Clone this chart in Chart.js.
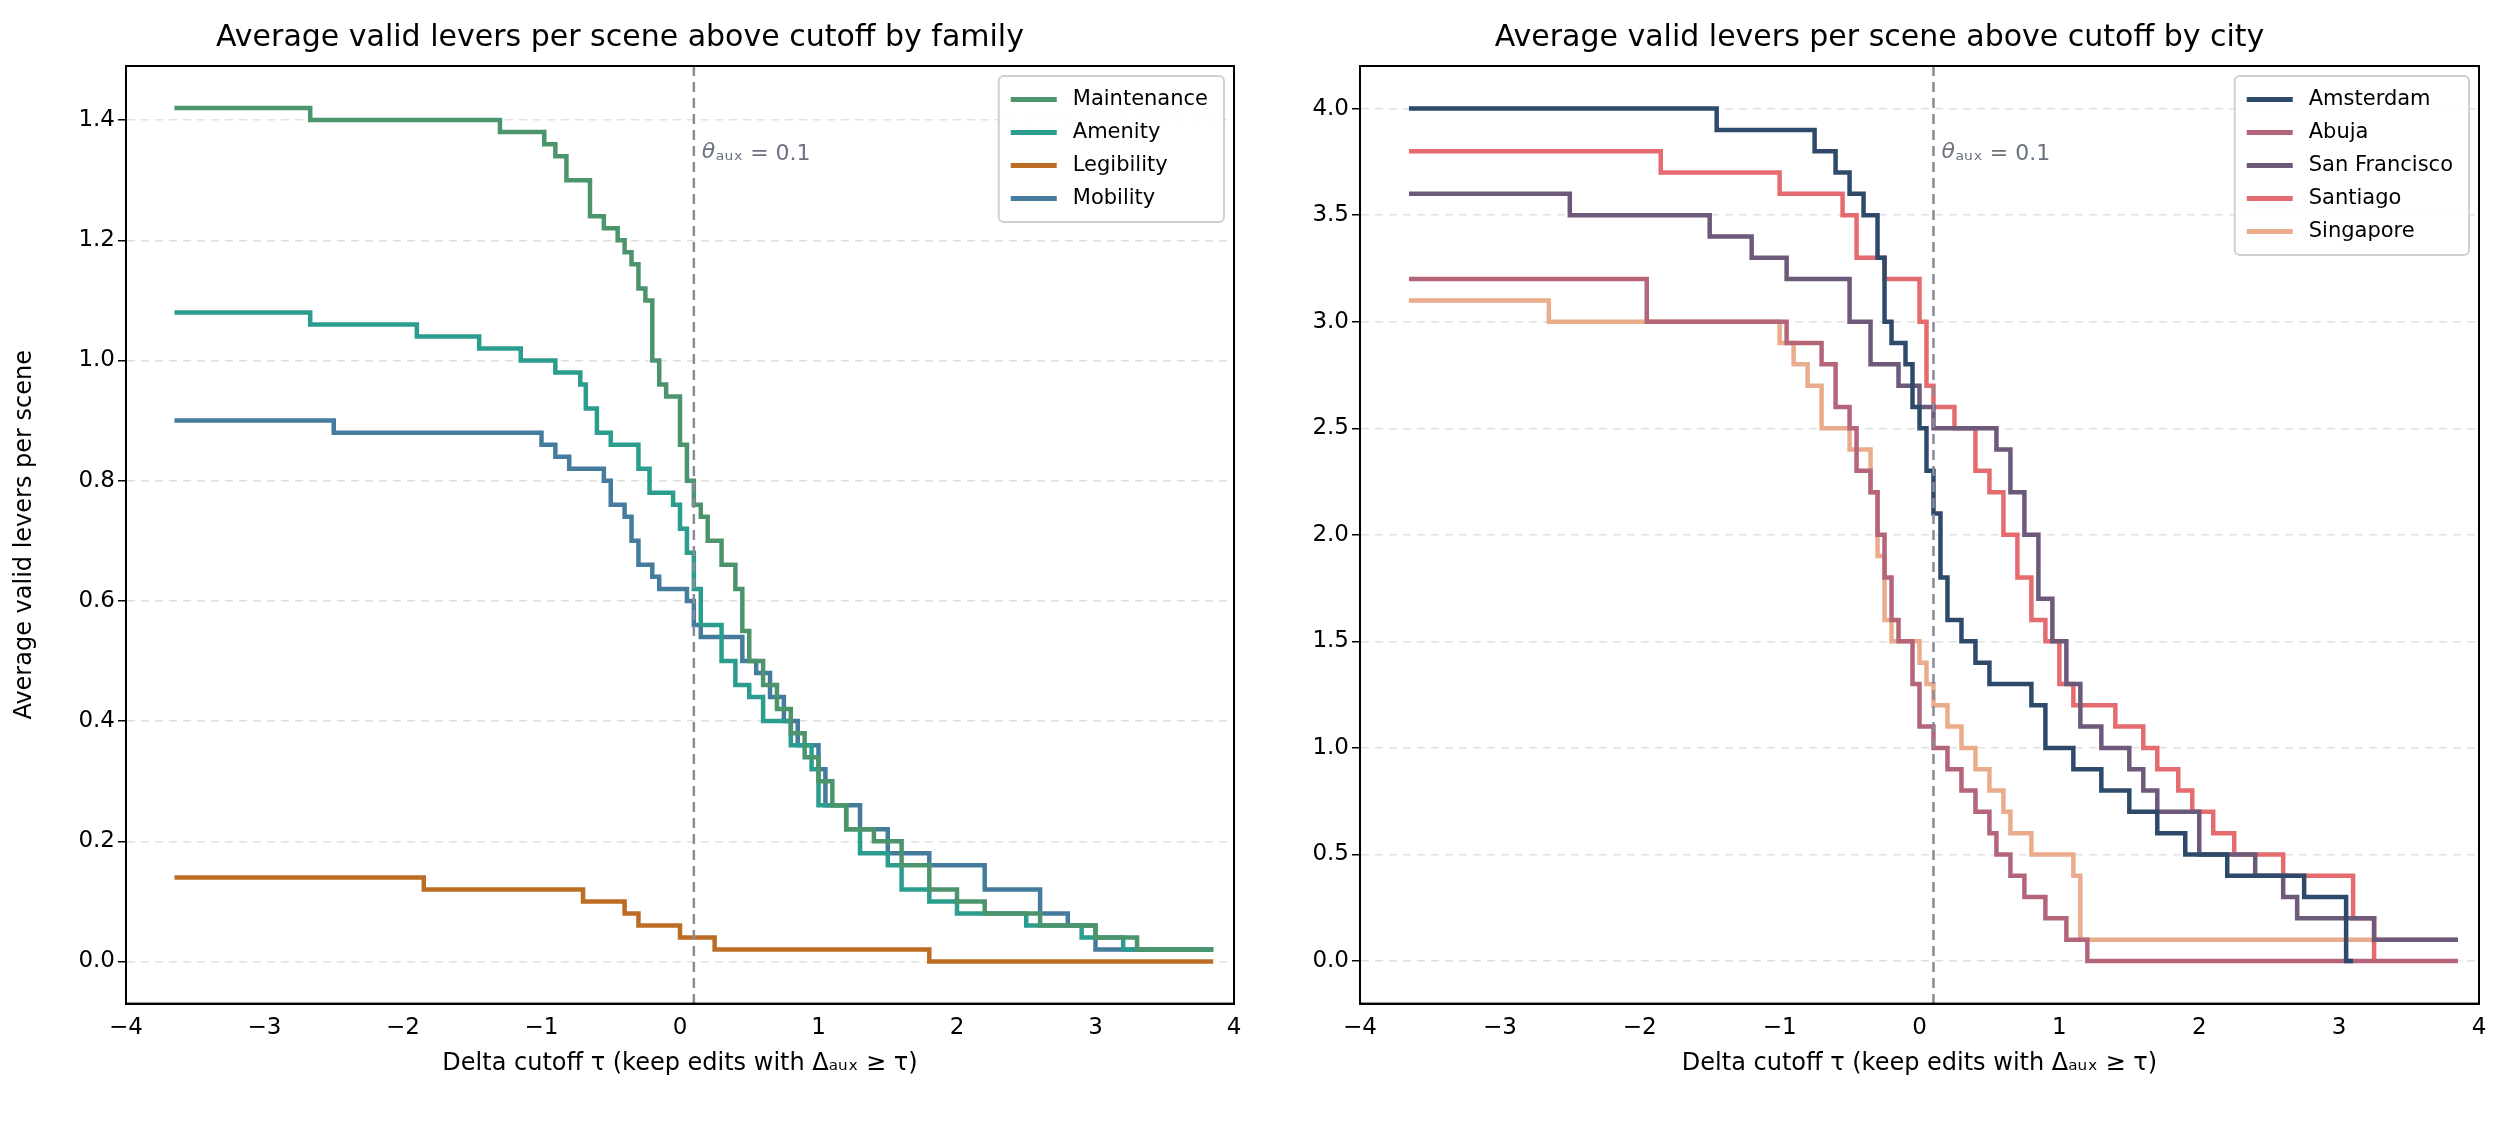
<!DOCTYPE html>
<html>
<head>
<meta charset="utf-8">
<script src="https://cdn.jsdelivr.net/npm/chart.js@4.4.1/dist/chart.umd.min.js"></script>
<style>
  body { margin: 0; background: #fff; }
  .box { position: absolute; top: 0; height: 1122px; }
  #left { left: 0; width: 1262px; }
  #right { left: 1250px; width: 1257px; }
</style>
</head>
<body>
<div class="box" id="left"><canvas id="family-chart"></canvas></div>
<div class="box" id="right"><canvas id="city-chart"></canvas></div>
<script>
// step curves: x = cutoff where the value changes, y = value from there on
const maintenanceX = [-3.65,-2.67,-1.3,-0.98,-0.9,-0.82,-0.65,-0.55,-0.45,-0.4,-0.35,-0.3,-0.25,-0.2,-0.15,-0.1,0.0,0.05,0.1,0.15,0.2,0.3,0.4,0.45,0.5,0.6,0.7,0.8,0.9,1.0,1.1,1.2,1.4,1.6,1.8,2.0,2.2,2.6,3.0,3.3,3.85];
const maintenanceY = [1.42,1.40,1.38,1.36,1.34,1.30,1.24,1.22,1.20,1.18,1.16,1.12,1.10,1.00,0.96,0.94,0.86,0.80,0.76,0.74,0.70,0.66,0.62,0.55,0.50,0.46,0.42,0.38,0.34,0.30,0.26,0.22,0.20,0.16,0.12,0.10,0.08,0.06,0.04,0.02,0.02];
const amenityX = [-3.65,-2.67,-1.9,-1.45,-1.15,-0.9,-0.72,-0.68,-0.6,-0.5,-0.3,-0.22,-0.05,0.0,0.05,0.1,0.15,0.3,0.4,0.5,0.6,0.8,0.95,1.0,1.2,1.3,1.5,1.6,1.8,2.0,2.5,2.9,3.2,3.85];
const amenityY = [1.08,1.06,1.04,1.02,1.00,0.98,0.96,0.92,0.88,0.86,0.82,0.78,0.76,0.72,0.68,0.62,0.56,0.50,0.46,0.44,0.40,0.36,0.32,0.26,0.22,0.18,0.16,0.12,0.10,0.08,0.06,0.04,0.02,0.02];
const legibilityX = [-3.65,-1.85,-0.7,-0.4,-0.3,0.0,0.25,1.8,3.85];
const legibilityY = [0.14,0.12,0.10,0.08,0.06,0.04,0.02,0.00,0.00];
const mobilityX = [-3.65,-2.5,-1.0,-0.9,-0.8,-0.55,-0.5,-0.4,-0.35,-0.3,-0.2,-0.15,0.05,0.1,0.15,0.45,0.55,0.65,0.75,0.85,1.0,1.05,1.3,1.5,1.8,2.2,2.6,2.8,3.0,3.85];
const mobilityY = [0.90,0.88,0.86,0.84,0.82,0.80,0.76,0.74,0.70,0.66,0.64,0.62,0.60,0.56,0.54,0.50,0.48,0.44,0.40,0.36,0.32,0.26,0.22,0.18,0.16,0.12,0.08,0.06,0.02,0.02];

const amsterdamX = [-3.65,-1.45,-0.75,-0.6,-0.5,-0.4,-0.3,-0.25,-0.2,-0.1,-0.05,0.0,0.05,0.1,0.15,0.2,0.3,0.4,0.5,0.8,0.9,1.1,1.3,1.5,1.7,1.9,2.2,2.75,3.05,3.1];
const amsterdamY = [4.0,3.9,3.8,3.7,3.6,3.5,3.3,3.0,2.9,2.8,2.6,2.5,2.3,2.1,1.8,1.6,1.5,1.4,1.3,1.2,1.0,0.9,0.8,0.7,0.6,0.5,0.4,0.3,0.0,0.0];
const abujaX = [-3.65,-1.95,-0.95,-0.7,-0.6,-0.5,-0.45,-0.35,-0.3,-0.25,-0.2,-0.15,-0.05,0.0,0.1,0.2,0.3,0.4,0.5,0.55,0.65,0.75,0.9,1.05,1.2,3.85];
const abujaY = [3.2,3.0,2.9,2.8,2.6,2.5,2.3,2.2,2.0,1.8,1.6,1.5,1.3,1.1,1.0,0.9,0.8,0.7,0.6,0.5,0.4,0.3,0.2,0.1,0.0,0.0];
const sanFranciscoX = [-3.65,-2.5,-1.5,-1.2,-0.95,-0.5,-0.35,-0.15,0.0,0.1,0.55,0.65,0.75,0.85,0.95,1.05,1.15,1.3,1.5,1.6,1.7,2.0,2.4,2.6,2.7,3.25,3.85];
const sanFranciscoY = [3.6,3.5,3.4,3.3,3.2,3.0,2.8,2.7,2.6,2.5,2.4,2.2,2.0,1.7,1.5,1.3,1.1,1.0,0.9,0.8,0.7,0.5,0.4,0.3,0.2,0.1,0.1];
const santiagoX = [-3.65,-1.85,-1.0,-0.55,-0.45,-0.25,0.0,0.05,0.1,0.25,0.4,0.5,0.6,0.7,0.8,0.9,1.0,1.1,1.4,1.6,1.7,1.85,1.95,2.1,2.25,2.6,3.1,3.25];
const santiagoY = [3.8,3.7,3.6,3.5,3.3,3.2,3.0,2.7,2.6,2.5,2.3,2.2,2.0,1.8,1.6,1.5,1.3,1.2,1.1,1.0,0.9,0.8,0.7,0.6,0.5,0.4,0.2,0.0];
const singaporeX = [-3.65,-2.65,-1.0,-0.9,-0.8,-0.7,-0.5,-0.35,-0.3,-0.25,-0.2,0.0,0.05,0.1,0.2,0.3,0.4,0.5,0.6,0.65,0.8,1.1,1.15,3.85];
const singaporeY = [3.1,3.0,2.9,2.8,2.7,2.5,2.4,2.2,1.9,1.6,1.5,1.4,1.3,1.2,1.1,1.0,0.9,0.8,0.7,0.6,0.5,0.4,0.1,0.1];

const familyTicks = [0.0,0.2,0.4,0.6,0.8,1.0,1.2,1.4];
const cityTicks = [0.0,0.5,1.0,1.5,2.0,2.5,3.0,3.5,4.0];
const xTicks = [-4,-3,-2,-1,0,1,2,3,4];
const thetaAux = 0.1;

Chart.defaults.font.family = 'DejaVu Sans';
Chart.defaults.color = '#000';

function pts(xs, ys) { return xs.map((x, i) => ({ x, y: ys[i] })); }

function series(label, xs, ys, color) {
  return { label, data: pts(xs, ys), borderColor: color, backgroundColor: color,
           borderWidth: 4.5, pointRadius: 0, stepped: true, fill: false };
}

const extras = {
  id: 'extras',
  afterDatasetsDraw(chart) {
    const { ctx, chartArea: a, scales } = chart;
    const px = scales.x.getPixelForValue(thetaAux);
    ctx.save();
    ctx.strokeStyle = '#8a8a9a';
    ctx.lineWidth = 2.5;
    ctx.setLineDash([10, 6]);
    ctx.beginPath(); ctx.moveTo(px, a.top); ctx.lineTo(px, a.bottom); ctx.stroke();
    ctx.setLineDash([]);
    ctx.fillStyle = '#6b7280';
    ctx.font = 'italic 22px DejaVu Sans';
    ctx.textBaseline = 'middle';
    ctx.fillText('θ', px + 8, a.top + 86);
    ctx.font = '22px DejaVu Sans';
    ctx.fillText('ₐᵤₓ = 0.1', px + 22, a.top + 88);
    // legend box
    const ds = chart.data.datasets;
    ctx.font = '21px DejaVu Sans';
    const w = Math.max(...ds.map(d => ctx.measureText(d.label).width)) + 90;
    const rowH = 33;
    const h = ds.length * rowH + 14;
    const lx = a.right - w - 10, ly = a.top + 10;
    ctx.fillStyle = 'rgba(255,255,255,0.85)';
    ctx.strokeStyle = '#d0d0d0';
    ctx.lineWidth = 2;
    ctx.beginPath(); ctx.roundRect(lx, ly, w, h, 5); ctx.fill(); ctx.stroke();
    ds.forEach((d, i) => {
      const y = ly + 7 + rowH * i + rowH / 2;
      ctx.strokeStyle = d.borderColor; ctx.lineWidth = 5;
      ctx.beginPath(); ctx.moveTo(lx + 12, y); ctx.lineTo(lx + 58, y); ctx.stroke();
      ctx.fillStyle = '#000';
      ctx.fillText(d.label, lx + 74, y);
    });
    ctx.restore();
  }
};

function makeChart(id, title, datasets, yMin, yMax, yTicks, yTitle, leftPad) {
  new Chart(document.getElementById(id), {
    type: 'line',
    data: { datasets },
    options: {
      responsive: true, maintainAspectRatio: false, animation: false,
      devicePixelRatio: 1,
      layout: { padding: { left: leftPad, right: 28, top: 20, bottom: 40 } },
      plugins: {
        legend: { display: false },
        tooltip: { enabled: false },
        title: { display: true, text: title, font: { size: 30, weight: 'normal' }, padding: { top: 0, bottom: 10 } }
      },
      scales: {
        x: {
          type: 'linear', min: -4, max: 4,
          afterBuildTicks: s => { s.ticks = xTicks.map(v => ({ value: v })); },
          ticks: { font: { size: 23 }, callback: v => String(v).replace('-', '−') },
          grid: { display: false, drawTicks: true, tickLength: 8, tickColor: '#000' },
          border: { color: '#000', width: 2 },
          title: { display: true, text: 'Delta cutoff τ (keep edits with Δₐᵤₓ ≥ τ)', font: { size: 24 } }
        },
        y: {
          min: yMin, max: yMax,
          afterBuildTicks: s => { s.ticks = yTicks.map(v => ({ value: v })); },
          afterFit: s => { s.width = 80 + (yTitle ? 40 : 0); },
          ticks: { font: { size: 23 }, callback: v => v.toFixed(1) },
          grid: { color: '#e2e2e2', lineWidth: 1.5, tickColor: '#000', tickLength: 8, tickBorderDash: [] },
          border: { color: '#000', width: 2, dash: [8, 6] },
          title: { display: !!yTitle, text: yTitle, font: { size: 24 } }
        }
      }
    },
    plugins: [extras, {
      id: 'frame',
      afterDraw(chart) {
        const { ctx, chartArea: a } = chart;
        ctx.save(); ctx.strokeStyle = '#000'; ctx.lineWidth = 2;
        ctx.strokeRect(a.left, a.top, a.right - a.left, a.bottom - a.top);
        ctx.restore();
      }
    }]
  });
}

makeChart('family-chart', 'Average valid levers per scene above cutoff by family', [
  series('Maintenance', maintenanceX, maintenanceY, '#4c956c'),
  series('Amenity', amenityX, amenityY, '#2a9d8f'),
  series('Legibility', legibilityX, legibilityY, '#bc6c25'),
  series('Mobility', mobilityX, mobilityY, '#457b9d')
], -0.07, 1.49, familyTicks, 'Average valid levers per scene', 6);

makeChart('city-chart', 'Average valid levers per scene above cutoff by city', [
  series('Amsterdam', amsterdamX, amsterdamY, '#2e4a6b'),
  series('Abuja', abujaX, abujaY, '#b5657a'),
  series('San Francisco', sanFranciscoX, sanFranciscoY, '#6d597a'),
  series('Santiago', santiagoX, santiagoY, '#e56b6f'),
  series('Singapore', singaporeX, singaporeY, '#eaac8b')
], -0.2, 4.2, cityTicks, '', 30);
</script>
</body>
</html>
